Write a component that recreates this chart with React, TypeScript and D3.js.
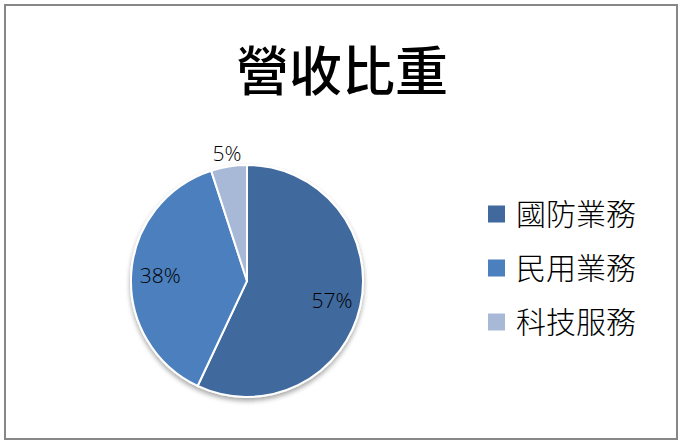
import React from "react";
import * as d3 from "d3";

const title = "營收比重";
const categories = ["國防業務", "民用業務", "科技服務"];
const values = [57, 38, 5];
const colors = ["#41699d", "#4b7fbd", "#a8b9d8"];

const W = 682;
const H = 445;
const cx = 247;
const cy = 281;
const R = 116;

export default function App() {
  const pie = d3.pie<number>().sort(null).value((d) => d)(values);
  const arc = d3.arc<d3.PieArcDatum<number>>().innerRadius(0).outerRadius(R);
  const total = d3.sum(values);
  const labelR = (d: d3.PieArcDatum<number>) =>
    (d.endAngle - d.startAngle) / (2 * Math.PI) < 0.1 ? R * 1.11 : R * 0.75;
  const legendY = d3.scalePoint<string>().domain(categories).range([214, 322]);
  const font = "'Noto Sans CJK TC', 'Noto Sans', sans-serif";

  return (
    <svg
      width={W}
      height={H}
      style={{ position: "absolute", left: 0, top: 0 }}
      viewBox={`0 0 ${W} ${H}`}
    >
      <defs>
        <filter id="sh" x="-20%" y="-20%" width="140%" height="150%">
          <feGaussianBlur in="SourceAlpha" stdDeviation="2.5" />
          <feOffset dx="0" dy="3" result="b" />
          <feComponentTransfer>
            <feFuncA type="linear" slope="0.35" />
          </feComponentTransfer>
          <feMerge>
            <feMergeNode />
            <feMergeNode in="SourceGraphic" />
          </feMerge>
        </filter>
      </defs>
      <rect x={0} y={0} width={W} height={H} fill="#fff" />
      <rect
        x={5}
        y={5}
        width={672}
        height={434}
        fill="#fff"
        stroke="#878787"
        strokeWidth={2}
      />
      <text
        x={342}
        y={91}
        textAnchor="middle"
        fontFamily={font}
        fontSize={53}
        fontWeight={500}
        fill="#000"
      >
        {title}
      </text>
      <g transform={`translate(${cx},${cy})`}>
        <g filter="url(#sh)">
          {pie.map((d, i) => (
            <path
              key={i}
              d={arc(d) || ""}
              fill={colors[i]}
              stroke="#fff"
              strokeWidth={2}
            />
          ))}
        </g>
        {pie.map((d, i) => {
          const a = (d.startAngle + d.endAngle) / 2;
          const r = labelR(d);
          const x = Math.sin(a) * r;
          const y = -Math.cos(a) * r;
          return (
            <text
              key={i}
              x={x}
              y={y}
              dy="0.36em"
              textAnchor="middle"
              fontFamily="'Open Sans', 'Noto Sans', sans-serif"
              fontSize={21}
              fontWeight={300}
              fill="#000"
            >
              {Math.round((d.data / total) * 100)}%
            </text>
          );
        })}
      </g>
      {categories.map((c, i) => {
        const y = legendY(c) as number;
        return (
          <g key={c}>
            <rect x={488} y={y - 8.5} width={17} height={17} fill={colors[i]} />
            <text
              x={516}
              y={y}
              dy="0.36em"
              fontFamily={font}
              fontSize={30}
              fontWeight={300}
              fill="#000"
            >
              {c}
            </text>
          </g>
        );
      })}
    </svg>
  );
}
